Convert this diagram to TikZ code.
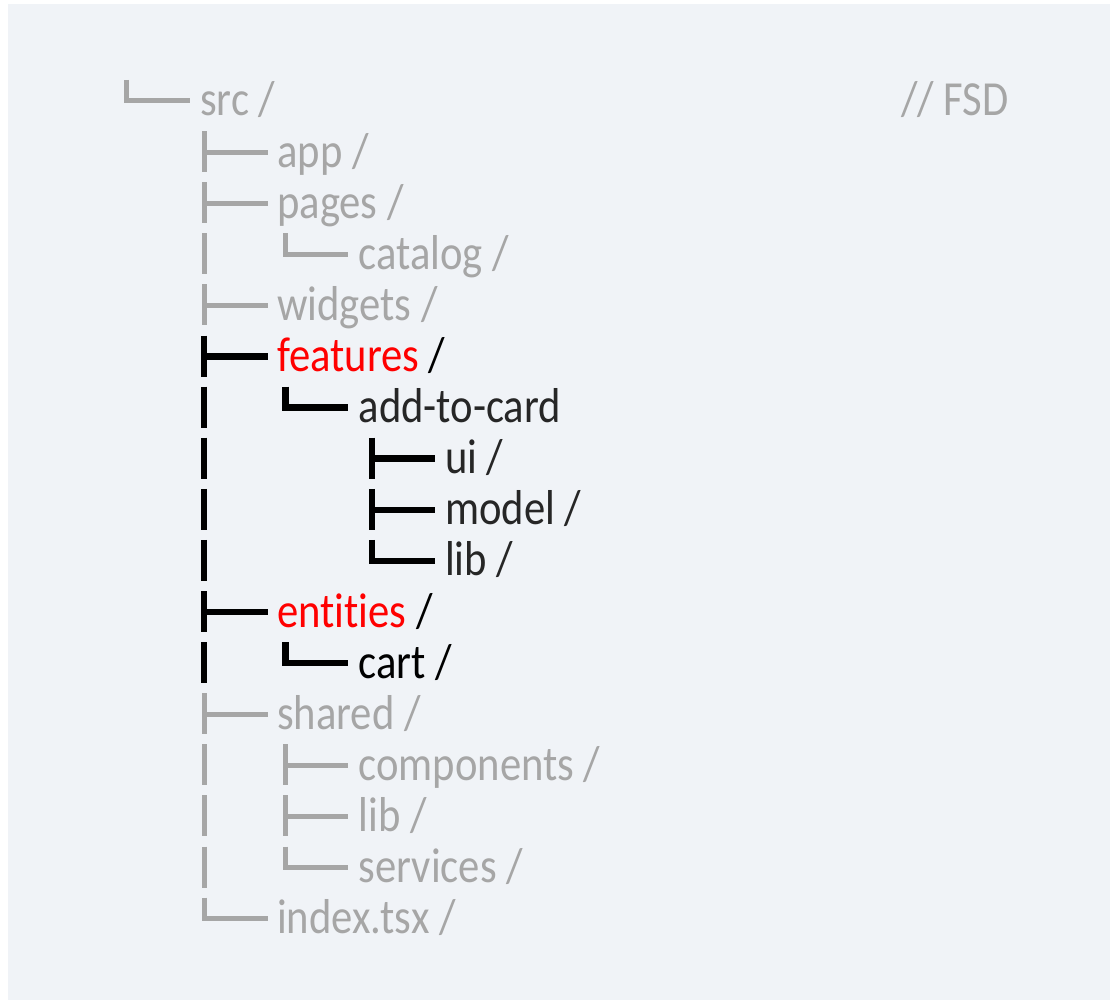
\documentclass[tikz,border=0pt]{standalone}
\usepackage{fontspec}
\setmainfont{Carlito}[FakeStretch=0.87,Ligatures={NoCommon}]
\definecolor{bgpanel}{HTML}{F0F3F7}
\definecolor{gtxt}{HTML}{A6A6A6}
\definecolor{dtxt}{HTML}{262626}
\definecolor{rtxt}{HTML}{FF0000}
\newcommand\yb[1]{\fpeval{116+51.1*(#1)}}
% tee: x-center, x-end, row, style
\newcommand\treetee[4]{%
  \draw[#4] (#1,\fpeval{116+51.1*(#3)-36}) -- (#1,\fpeval{116+51.1*(#3)+5});
  \draw[#4] (#1,\fpeval{116+51.1*(#3)-15}) -- (#2,\fpeval{116+51.1*(#3)-15});}
\newcommand\treecorner[4]{%
  \draw[#4] (#1,\fpeval{116+51.1*(#3)-36}) |- (#2,\fpeval{116+51.1*(#3)-15});}
\newcommand\treepipe[3]{%
  \draw[#3] (#1,\fpeval{116+51.1*(#2)-36}) -- (#1,\fpeval{116+51.1*(#2)+5});}
\begin{document}
\begin{tikzpicture}[x=1pt,y=-1pt,
  glin/.style={draw=gtxt,line width=5pt,line join=miter},
  blin/.style={draw=black,line width=6.5pt,line join=miter},
  lbl/.style={anchor=base west,inner sep=0pt,font=\fontsize{49}{59}\selectfont},
  glbl/.style={lbl,text=gtxt},
  dlbl/.style={lbl,text=dtxt},
  klbl/.style={lbl,text=black}]
\useasboundingbox (0,0) rectangle (1111,1000);
\fill[white] (0,0) rectangle (1111,1000);
\fill[bgpanel] (8,4) rectangle (1110,1000);
% labels
\node[glbl] (src) at (200,\yb{0}) {src /};
\node[glbl] (fsd) at (901,\yb{0}) {// FSD};
\node[glbl] (app) at (277,\yb{1}) {app /};
\node[glbl] (pages) at (277,\yb{2}) {pages /};
\node[glbl] (catalog) at (358.5,\yb{3}) {catalog /};
\node[glbl] (widgets) at (277,\yb{4}) {widgets /};
\node[klbl] (features) at (277,\yb{5}) {\textcolor{rtxt}{features} /};
\node[dlbl] (addtocard) at (358.5,\yb{6}) {add-to-card};
\node[dlbl] (ui) at (445,\yb{7}) {ui /};
\node[dlbl] (model) at (445,\yb{8}) {model /};
\node[dlbl] (flib) at (445,\yb{9}) {lib /};
\node[klbl] (entities) at (277,\yb{10}) {\textcolor{rtxt}{entities} /};
\node[klbl] (cart) at (358.5,\yb{11}) {cart /};
\node[glbl] (shared) at (277,\yb{12}) {shared /};
\node[glbl] (components) at (358.5,\yb{13}) {components /};
\node[glbl] (slib) at (358.5,\yb{14}) {lib /};
\node[glbl] (services) at (358.5,\yb{15}) {services /};
\node[glbl] (index) at (277,\yb{16}) {index.tsx /};
% tree lines
\treecorner{126.5}{190}{0}{glin}
\treetee{204}{268}{1}{glin}
\treetee{204}{268}{2}{glin}
\treepipe{204}{3}{glin}
\treecorner{285.5}{348}{3}{glin}
\treetee{204}{268}{4}{glin}
\treetee{204}{268}{5}{blin}
\treepipe{204}{6}{blin}
\treecorner{285.5}{348}{6}{blin}
\treepipe{204}{7}{blin}
\treetee{372}{435}{7}{blin}
\treepipe{204}{8}{blin}
\treetee{372}{435}{8}{blin}
\treepipe{204}{9}{blin}
\treecorner{372}{435}{9}{blin}
\treetee{204}{268}{10}{blin}
\treepipe{204}{11}{blin}
\treecorner{285.5}{348}{11}{blin}
\treetee{204}{268}{12}{glin}
\treepipe{204}{13}{glin}
\treetee{285.5}{348}{13}{glin}
\treepipe{204}{14}{glin}
\treetee{285.5}{348}{14}{glin}
\treepipe{204}{15}{glin}
\treecorner{285.5}{348}{15}{glin}
\treecorner{204}{268}{16}{glin}
\end{tikzpicture}
\end{document}
